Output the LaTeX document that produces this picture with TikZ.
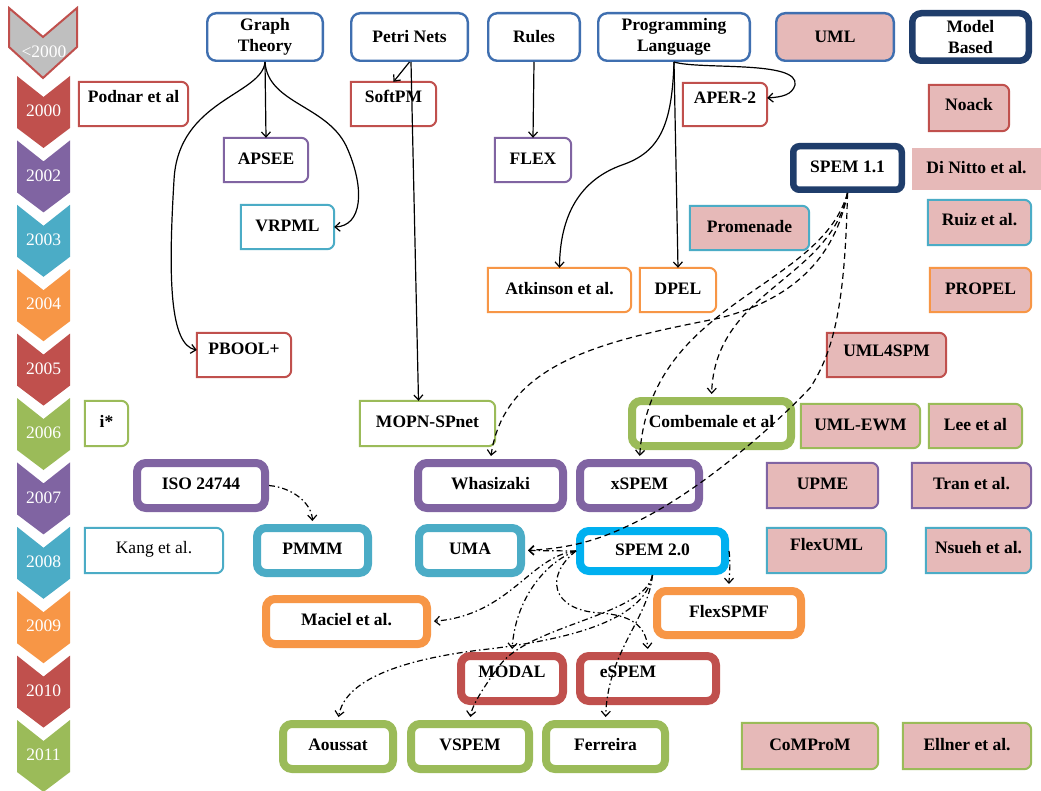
\documentclass[tikz,border=0pt]{standalone}
\usepackage{fontspec}
\setmainfont{Liberation Serif}
\usetikzlibrary{arrows.meta,backgrounds}
\definecolor{cred}{HTML}{C0504D}
\definecolor{cpur}{HTML}{8064A2}
\definecolor{caqua}{HTML}{4BACC6}
\definecolor{corange}{HTML}{F79646}
\definecolor{cgreen}{HTML}{9BBB59}
\definecolor{ctop}{HTML}{3F6FB0}
\definecolor{cnavy}{HTML}{1F3D6B}
\definecolor{ccyan}{HTML}{00B0F0}
\definecolor{cpink}{HTML}{E6B9B8}
\definecolor{cgrey}{HTML}{BFBFBF}
\newcommand\halfbox[3]{%
  \filldraw[draw=#2,fill=#3,line width=2pt] (#1.south west) -- (#1.north west) -- ([xshift=-7pt]#1.north east) arc[start angle=90,end angle=0,radius=7pt] -- ([yshift=7pt]#1.south east) arc[start angle=0,end angle=-90,radius=7pt] -- cycle;}
\begin{document}
\begin{tikzpicture}[x=1pt,y=-1pt,
  font=\fontsize{17.5}{21}\selectfont\bfseries,
  lbox/.style={inner sep=0pt, text height=12pt, text depth=3.5pt},
  tbox/.style={lbox, draw=#1, line width=8pt, rounded corners=9pt, fill=white},
  catbox/.style={inner sep=0pt, align=center, draw=ctop, line width=2.4pt, rounded corners=9pt, fill=white},
  conn/.style={line width=1.2pt, -{Straight Barb[length=5pt,width=9pt]}},
  dsh/.style={conn, dash pattern=on 6pt off 4pt, shorten >=3pt},
  dd/.style={conn, dash pattern=on 6pt off 3pt on 1.5pt off 3pt, shorten >=3pt},
  yearfont/.style={text=white, font=\fontsize{17.5}{21}\selectfont\mdseries}]
\useasboundingbox (0,0) rectangle (1041,791);
% timeline
\filldraw[fill=cgrey, draw=cred, line width=2pt] (9,8) -- (43,37) -- (77,8) -- (77,47) -- (43,78) -- (9,47) -- cycle;
\node[yearfont] (y1999) at (44,52) {<2000};
\foreach \yr/\col [count=\i from 0] in {2000/cred,2002/cpur,2003/caqua,2004/corange,2005/cred,2006/cgreen,2007/cpur,2008/caqua,2009/corange,2010/cred,2011/cgreen}{
  \pgfmathsetmacro\yy{76+\i*64.4}
  \fill[\col] (17,\yy) -- (43.5,\yy+21) -- (70,\yy) -- (70,\yy+52) -- (43.5,\yy+72) -- (17,\yy+52) -- cycle;
  \node[yearfont] (y\yr) at (43.5,\yy+35) {\yr};
}
% category boxes
\node[catbox, minimum width=115.6, minimum height=47.6] (GT) at (265,37) {Graph\\Theory};
\node[catbox, minimum width=116.6, minimum height=47.6] (PN) at (409.5,37) {Petri Nets};
\node[catbox, minimum width=91.6, minimum height=47.6] (RU) at (534,37) {Rules};
\node[catbox, minimum width=151.6, minimum height=47.6] (PL) at (674,37) {Programming\\Language};
\node[catbox, fill=cpink, minimum width=117.6, minimum height=47.6] (UML) at (835,37) {UML};
\node[catbox, draw=cnavy, line width=6.5pt, minimum width=116.5, minimum height=47.5] (MB) at (970.5,37) {Model\\Based};
% thin boxes
\node[lbox, text depth=14.5pt, minimum width=109, minimum height=44] (Podnar) at (133.5,104) {Podnar et al};
\node[lbox, text depth=14.5pt, minimum width=85, minimum height=44] (SoftPM) at (393.5,104) {SoftPM};
\node[lbox, text depth=13.5pt, minimum width=84, minimum height=43] (APER) at (725,104.5) {APER-2};
\node[lbox, text depth=6.5pt, minimum width=80, minimum height=46] (Noack) at (969,108) {Noack};
\node[lbox, minimum width=84, minimum height=44] (APSEE) at (266,160) {APSEE};
\node[lbox, minimum width=76, minimum height=44] (FLEX) at (533,160) {FLEX};
\node[lbox, minimum width=129, minimum height=42] (DiN) at (976.5,169) {Di Nitto et al.};
\node[lbox, minimum width=93, minimum height=44] (VRPML) at (287.5,227) {VRPML};
\node[lbox, minimum width=119, minimum height=44] (Prom) at (749.5,228) {Promenade};
\node[lbox, text depth=6.5pt, minimum width=103, minimum height=45] (Ruiz) at (979.5,222.5) {Ruiz et al.};
\node[lbox, minimum width=143, minimum height=44] (Atk) at (559.5,290) {Atkinson et al.};
\node[lbox, minimum width=76, minimum height=44] (DPEL) at (678,290) {DPEL};
\node[lbox, minimum width=101, minimum height=44] (PROPEL) at (980.5,290) {PROPEL};
\node[lbox, text depth=12.5pt, minimum width=94, minimum height=44] (PBOOL) at (244,355) {PBOOL+};
\node[lbox, text depth=8.5pt, minimum width=119, minimum height=44] (UMLSPM) at (886.5,355) {UML4SPM};
\node[lbox, minimum width=43, minimum height=45] (istar) at (106.5,423.5) {i*};
\node[lbox, minimum width=135, minimum height=45] (MOPN) at (427.5,423.5) {MOPN-SPnet};
\node[lbox, minimum width=119, minimum height=44] (EWM) at (860.5,426) {UML-EWM};
\node[lbox, minimum width=93, minimum height=44] (Lee) at (975.5,426) {Lee et al};
\node[lbox, minimum width=111, minimum height=45] (UPME) at (822.5,485.5) {UPME};
\node[lbox, minimum width=119, minimum height=45] (Tran) at (971.5,485.5) {Tran et al.};
\node[lbox, font=\fontsize{17.5}{21}\selectfont\mdseries, text depth=6.5pt, minimum width=138, minimum height=45] (Kang) at (154,550.5) {Kang et al.};
\node[lbox, text depth=11.5pt, minimum width=119, minimum height=45] (FlexUML) at (826.5,550.5) {FlexUML};
\node[lbox, text depth=7pt, minimum width=105, minimum height=45] (Nsueh) at (978.5,550.5) {Nsueh et al.};
\node[lbox, minimum width=136, minimum height=46] (CoMProM) at (810,746) {CoMProM};
\node[lbox, minimum width=128, minimum height=46] (Ellner) at (967,746) {Ellner et al.};
\begin{scope}[on background layer]
\fill[white] (0,0) rectangle (1041,791);
\fill[cpink] (DiN.south west) rectangle (DiN.north east);
\foreach \n/\c/\f in {Podnar/cred/white,SoftPM/cred/white,APER/cred/white,Noack/cred/cpink,APSEE/cpur/white,FLEX/cpur/white,VRPML/caqua/white,Prom/caqua/cpink,Ruiz/caqua/cpink,Atk/corange/white,DPEL/corange/white,PROPEL/corange/cpink,PBOOL/cred/white,UMLSPM/cred/cpink,istar/cgreen/white,MOPN/cgreen/white,EWM/cgreen/cpink,Lee/cgreen/cpink,UPME/cpur/cpink,Tran/cpur/cpink,Kang/caqua/white,FlexUML/caqua/cpink,Nsueh/caqua/cpink,CoMProM/cgreen/cpink,Ellner/cgreen/cpink}{\halfbox{\n}{\c}{\f}}
\end{scope}
% thick boxes
\node[lbox, draw=cnavy, line width=6.5pt, rounded corners=6pt, fill=white, minimum width=108.5, minimum height=43.5] (S11) at (847.5,168) {SPEM 1.1};
\node[tbox=cgreen, minimum width=159, minimum height=45] (Comb) at (711.5,423.5) {Combemale et al};
\node[tbox=cpur, minimum width=128, minimum height=45] (ISO) at (201,485.5) {ISO 24744};
\node[tbox=cpur, minimum width=145, minimum height=45] (Wha) at (490.5,485.5) {Whasizaki};
\node[tbox=cpur, minimum width=119, minimum height=45] (xSPEM) at (639.5,485.5) {xSPEM};
\node[tbox=caqua, minimum width=111, minimum height=45] (PMMM) at (312.5,550.5) {PMMM};
\node[tbox=caqua, minimum width=102, minimum height=45] (UMA) at (470,550.5) {UMA};
\node[tbox=ccyan, minimum width=145, minimum height=40] (S20) at (652.5,551) {SPEM 2.0};
\node[tbox=corange, minimum width=161, minimum height=45] (Maciel) at (346.5,621.5) {Maciel et al.};
\node[tbox=corange, minimum width=144, minimum height=44] (FlexSPMF) at (729,613) {FlexSPMF};
\node[tbox=cred, text depth=13.5pt, minimum width=102, minimum height=45] (MODAL) at (512,678.5) {MODAL};
\node[tbox=cred, text depth=13.5pt, minimum width=136, minimum height=45] (eSPEM) at (648,678.5) {eSPEM\hspace*{40pt}};
\node[tbox=cgreen, minimum width=110, minimum height=45] (Aoussat) at (338,746.5) {Aoussat};
\node[tbox=cgreen, minimum width=118, minimum height=45] (VSPEM) at (470,746.5) {VSPEM};
\node[tbox=cgreen, minimum width=119, minimum height=45] (Ferreira) at (605.5,746.5) {Ferreira};
% solid connectors
\draw[conn] (GT.south) -- (APSEE.north);
\draw[conn] (GT.south) .. controls (262,95) and (178,100) .. (174,180) .. controls (168,280) and (170,345) .. ([yshift=5pt]PBOOL.west);
\draw[conn] (GT.south) .. controls (268,105) and (330,105) .. (348,150) .. controls (365,190) and (362,226) .. (VRPML.east);
\draw[conn] (PN.south) -- (SoftPM.north);
\draw[conn] ([xshift=1.5pt]PN.south) -- ([xshift=-9pt]MOPN.north);
\draw[conn] (RU.south) -- (FLEX.north);
\draw[conn] (PL.south) .. controls (700,70) and (800,60) .. (795,85) .. controls (792,95) and (782,97) .. ([yshift=6.5pt]APER.east);
\draw[conn] (PL.south) .. controls (672,125) and (660,152) .. (622,165) .. controls (580,180) and (560,215) .. (Atk.north);
\draw[conn] (PL.south) -- (DPEL.north);
% dashed from SPEM 1.1
\draw[dsh] (S11.south) .. controls (835,260) and (790,300) .. (720,318) .. controls (610,340) and (505,360) .. (Wha.north);
\draw[dsh] (S11.south) .. controls (820,290) and (650,300) .. (xSPEM.north);
\draw[dsh] (S11.south) .. controls (830,280) and (715,290) .. (Comb.north);
\draw[dsh] (S11.south) .. controls (845,300) and (835,350) .. (810,388) .. controls (770,430) and (700,490) .. (640,520) .. controls (610,535) and (580,548) .. (UMA.east);
% dash-dot
\draw[dd] (ISO.east) .. controls (295,488) and (312,505) .. (PMMM.north);
\draw[dd] (S20.west) -- (UMA.east);
\draw[dd] (S20.west) .. controls (530,556) and (510,615) .. (Maciel.east);
\draw[dd] (S20.west) .. controls (545,562) and (515,600) .. (MODAL.north);
\draw[dd] (S20.west) .. controls (545,575) and (550,610) .. (600,613) .. controls (630,615) and (646,625) .. (eSPEM.north);
\draw[dd] (S20.south) .. controls (648,620) and (608,650) .. (Ferreira.north);
\draw[dd] (S20.south) .. controls (645,615) and (530,625) .. (500,665) .. controls (485,685) and (472,705) .. (VSPEM.north);
\draw[dd] (S20.south) .. controls (645,620) and (570,640) .. (480,650) .. controls (400,660) and (345,680) .. (Aoussat.north);
\draw[dd] (S20.east) .. controls (731,565) and (729,578) .. (FlexSPMF.north);
\end{tikzpicture}
\end{document}
